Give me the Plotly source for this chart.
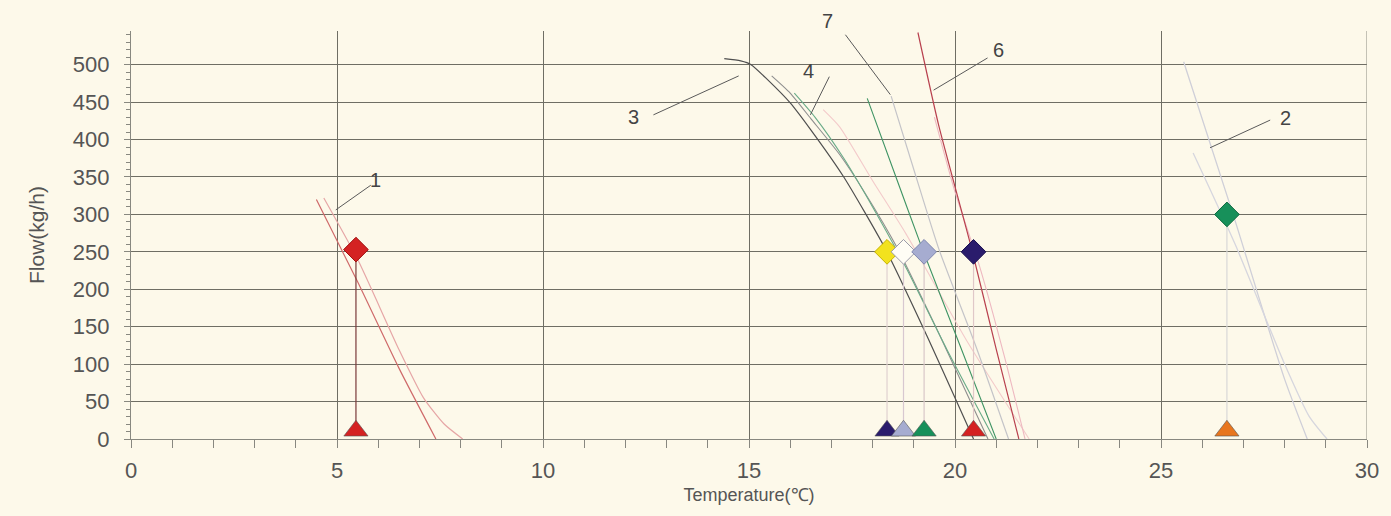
import plotly.graph_objects as go

# ---- curve data (Temperature °C, Flow kg/h) ----
c1a_x = [4.5, 5.5, 6.5, 7.4]
c1a_y = [320, 210, 95, 0]
c1b_x = [4.68, 5.5, 6.5, 7.1, 7.6, 8.05]
c1b_y = [322, 240, 120, 55, 20, 0]

c2a_x = [25.55, 26.75, 28.0, 28.55]
c2a_y = [504, 300, 80, 0]
c2b_x = [25.78, 26.8, 27.97, 28.6, 29.03]
c2b_y = [382, 260, 104, 30, 0]

c3_x = [14.4, 14.8, 15.05, 15.45, 16.0, 16.5, 17.3, 18.3, 19.3, 20.45]
c3_y = [508, 505, 500, 480, 449, 413, 350, 255, 140, 0]

c4a_x = [15.55, 16.0, 16.5, 17.2, 17.8, 18.6, 19.6, 20.8]
c4a_y = [485, 462, 428, 380, 330, 255, 142, 0]
c4b_x = [16.1, 16.6, 17.3, 18.0, 18.8, 19.8, 20.95]
c4b_y = [462, 430, 375, 310, 230, 120, 0]

c5_x = [17.87, 18.5, 19.2, 20.1, 21.0]
c5_y = [455, 360, 255, 128, 0]

c7_x = [18.45, 19.0, 19.6, 20.5, 21.3]
c7_y = [458, 360, 255, 125, 0]

cp1_x = [16.8, 17.2, 18.0, 18.8, 20.3, 21.8]
cp1_y = [440, 417, 345, 275, 130, 0]

c6_x = [19.1, 19.6, 20.4, 21.0, 21.55]
c6_y = [543, 420, 255, 120, 0]

cp2_x = [19.5, 20.0, 20.6, 21.2, 21.7]
cp2_y = [430, 330, 230, 110, 0]

# ---- operating points ----
diam_x = [5.46, 18.35, 18.75, 19.25, 20.45, 26.6]
diam_y = [253, 250, 250, 250, 250, 300]
diam_col = ["#d42222", "#f2e21e", "#fffdf5", "#a6acd0", "#2a1c6c", "#17905a"]
diam_line = ["#a01010", "#c8b400", "#9a9aa8", "#8088b0", "#1a1050", "#0e6a40"]

tri_x = [5.46, 18.35, 18.75, 19.25, 20.45, 26.6]
tri_y = [11, 11, 11, 11, 11, 11]
tri_col = ["#d42222", "#2a1c6c", "#a6acd0", "#17905a", "#d42222", "#e8761e"]

conn_col = ["#7a3a3a", "#e0d0d0", "#d8c8d0", "#d8c8c8", "#e0c8c8", "#d8d8d8"]

# ---- labels ----
lab_text = ["1", "2", "3", "4", "6", "7"]
lab_x = [5.94, 28.01, 12.2, 16.44, 21.05, 16.9]
lab_y = [346, 429, 430, 491, 520, 558]
lead_x0 = [4.97, 26.19, 12.68, 16.49, 19.48, 17.34]
lead_y0 = [306, 389, 433, 433, 466, 540]
lead_x1 = [5.82, 27.65, 14.75, 16.95, 20.79, 18.43]
lead_y1 = [339, 426, 485, 484, 509, 460]

x_ticks = [0, 5, 10, 15, 20, 25, 30]
y_ticks = [0, 50, 100, 150, 200, 250, 300, 350, 400, 450, 500]

Y_MAX = 545

fig = go.Figure()

curves = [
    (c1a_x, c1a_y, "#cf6a6a", 1.2),
    (c1b_x, c1b_y, "#e6a6a6", 1.2),
    (c2a_x, c2a_y, "#cfcfd8", 1.3),
    (c2b_x, c2b_y, "#d6d6de", 1.3),
    (cp1_x, cp1_y, "#f3caca", 1.1),
    (cp2_x, cp2_y, "#eeb8c0", 1.1),
    (c7_x, c7_y, "#c4c4c8", 1.2),
    (c4a_x, c4a_y, "#8e8e8e", 1.1),
    (c4b_x, c4b_y, "#6aab88", 1.1),
    (c5_x, c5_y, "#3f9464", 1.1),
    (c3_x, c3_y, "#4f4f4f", 1.2),
    (c6_x, c6_y, "#b8404e", 1.2),
]
for cx, cy, col, w in curves:
    fig.add_trace(go.Scatter(x=cx, y=cy, mode="lines", line=dict(color=col, width=w, shape="spline", smoothing=0.6),
                             hoverinfo="skip", showlegend=False))

for i in range(len(diam_x)):
    fig.add_trace(go.Scatter(x=[diam_x[i], tri_x[i]], y=[diam_y[i], tri_y[i]], mode="lines",
                             line=dict(color=conn_col[i], width=1.2), hoverinfo="skip", showlegend=False))

fig.add_trace(go.Scatter(x=tri_x, y=tri_y, mode="markers", cliponaxis=False,
                         marker=dict(symbol="triangle-up", size=21, color=tri_col,
                                     line=dict(color="#555555", width=0.6)),
                         hoverinfo="skip", showlegend=False))
fig.add_trace(go.Scatter(x=diam_x, y=diam_y, mode="markers", cliponaxis=False,
                         marker=dict(symbol="diamond", size=19, color=diam_col,
                                     line=dict(color=diam_line, width=1)),
                         hoverinfo="skip", showlegend=False))

for i in range(len(lab_text)):
    fig.add_shape(type="line", x0=lead_x0[i], y0=lead_y0[i], x1=lead_x1[i], y1=lead_y1[i],
                  xref="x", yref="y", line=dict(color="#5a5a5a", width=1))
    if lab_y[i] <= Y_MAX:
        fig.add_annotation(x=lab_x[i], y=lab_y[i], text=lab_text[i], showarrow=False,
                           xref="x", yref="y", yanchor="middle",
                           font=dict(size=20, color="#444444"))
    else:
        fig.add_annotation(x=lab_x[i], y=lab_y[i] / Y_MAX, text=lab_text[i], showarrow=False,
                           xref="x", yref="paper", yanchor="middle",
                           font=dict(size=20, color="#444444"))

# right border line at x=30
fig.add_shape(type="line", x0=30, x1=30, y0=0, y1=Y_MAX, xref="x", yref="y",
              line=dict(color="#8a8a80", width=1))

grid_col = "#6f6e64"
fig.update_layout(
    width=1391, height=516,
    margin=dict(l=131, r=24, t=31, b=77),
    paper_bgcolor="#fdf9ea", plot_bgcolor="#fdf9ea",
    font=dict(family="Liberation Sans", color="#555555", size=19),
    xaxis=dict(range=[0, 30], tickvals=x_ticks, ticks="outside", ticklen=8, tickcolor="#888880",
               showgrid=True, gridcolor=grid_col, gridwidth=1,
               minor=dict(dtick=1, ticks="outside", ticklen=8, tickcolor="#888880", showgrid=False),
               showline=True, linecolor="#888880", linewidth=1.2, zeroline=False,
               ticklabelstandoff=3, tickfont=dict(size=22, color="#555555"),
               title=dict(text="Temperature(℃)", font=dict(size=18, color="#555555"), standoff=6)),
    yaxis=dict(range=[0, Y_MAX], tickvals=y_ticks, ticks="outside", ticklen=6, tickcolor="#888880",
               showgrid=True, gridcolor=grid_col, gridwidth=1,
               minor=dict(dtick=10, ticks="outside", ticklen=4, tickcolor="#888880", showgrid=False),
               showline=True, linecolor="#888880", linewidth=1.2, zeroline=False,
               ticklabelstandoff=10, tickfont=dict(size=22, color="#555555"),
               title=dict(text="Flow(kg/h)", font=dict(size=21, color="#555555"), standoff=22)),
)

fig.write_html("out.html", config={"displayModeBar": False},
               post_script="document.body.style.margin='0';document.body.style.overflow='hidden';")
